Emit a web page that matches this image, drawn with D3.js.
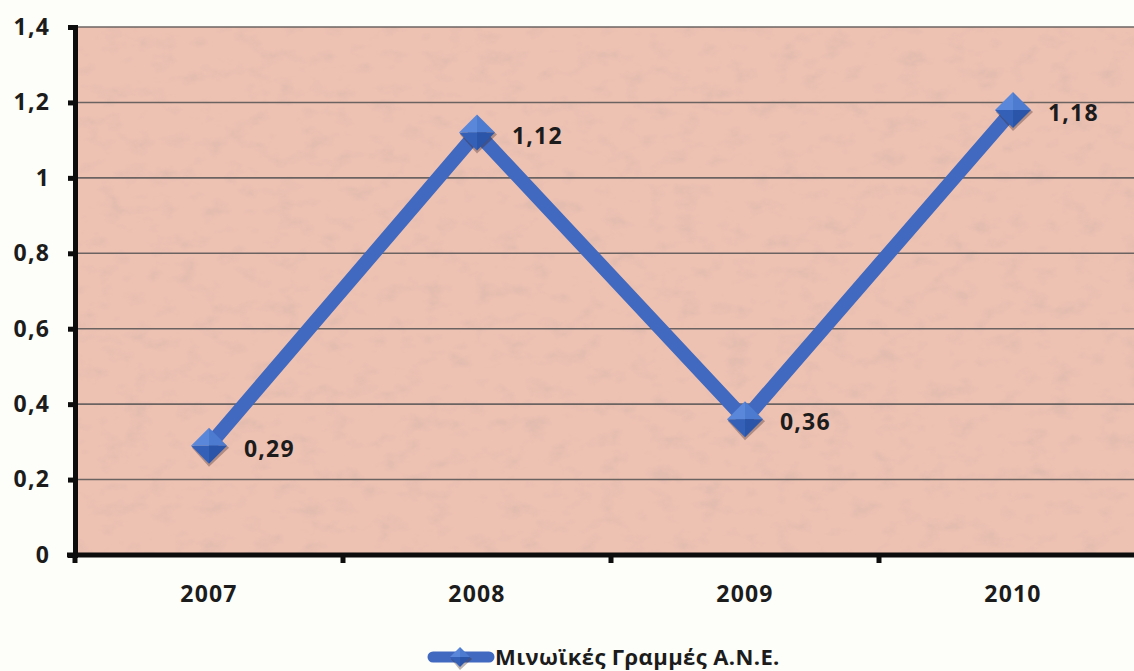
<!DOCTYPE html>
<html>
<head>
<meta charset="utf-8">
<script src="https://cdn.jsdelivr.net/npm/d3@7"></script>
<style>
  html, body { margin: 0; padding: 0; background: #fdfdf9; }
  svg { display: block; }
  text { font-family: "Open Sans", "Noto Sans", sans-serif; font-weight: 700; fill: #1c1c1c; }
</style>
</head>
<body>
<script>
// Data
const years = ["2007", "2008", "2009", "2010"];
const values = [0.29, 1.12, 0.36, 1.18];
const valueLabels = ["0,29", "1,12", "0,36", "1,18"];
const yTicks = [0, 0.2, 0.4, 0.6, 0.8, 1, 1.2, 1.4];
const seriesName = "Μινωϊκές Γραμμές Α.Ν.Ε.";

const W = 1134, H = 671;
const margin = { left: 75, top: 27, bottom: 116 };
const plotRight = 75 + 4 * 268;

const svg = d3.select("body").append("svg").attr("width", W).attr("height", H);

const x = d3.scaleBand().domain(years).range([margin.left, plotRight]);
const y = d3.scaleLinear().domain([0, 1.4]).range([H - margin.bottom, margin.top]);

const defs = svg.append("defs");
// light paper-like grain for the plot area
const f = defs.append("filter").attr("id", "grain").attr("x", 0).attr("y", 0).attr("width", 1).attr("height", 1);
f.append("feTurbulence").attr("type", "fractalNoise").attr("baseFrequency", "0.04 0.06").attr("numOctaves", 4).attr("seed", 7).attr("result", "noise");
f.append("feColorMatrix").attr("in", "noise").attr("type", "matrix")
  .attr("values", "0 0 0 0 0.66  0 0 0 0 0.46  0 0 0 0 0.40  0 0 0 -1.2 0.6").attr("result", "tint");
f.append("feComposite").attr("in", "tint").attr("in2", "SourceGraphic").attr("operator", "in").attr("result", "t2");
f.append("feMerge").call(m => { m.append("feMergeNode").attr("in", "SourceGraphic"); m.append("feMergeNode").attr("in", "t2"); });

// Plot background
svg.append("rect")
  .attr("x", margin.left).attr("y", y(1.4))
  .attr("width", plotRight - margin.left).attr("height", y(0) - y(1.4))
  .attr("fill", "#eec2b3")
  .attr("filter", "url(#grain)");

// Gridlines
svg.append("g").selectAll("line").data(yTicks.filter(d => d > 0)).join("line")
  .attr("x1", margin.left).attr("x2", W)
  .attr("y1", d => y(d)).attr("y2", d => y(d))
  .attr("stroke", "#6b6362").attr("stroke-width", 1.6);

const labelStyle = s => s.attr("font-size", 23).attr("fill", "#1c1c1c").style("letter-spacing", "1.2px");

// Y axis
const yAxis = svg.append("g").attr("transform", `translate(${margin.left},0)`)
  .call(d3.axisLeft(y).tickValues(yTicks).tickSize(7).tickPadding(18)
    .tickFormat(d => d3.format("~g")(d).replace(".", ",")));
yAxis.select(".domain").attr("stroke", "#0d0d0d").attr("stroke-width", 5);
yAxis.selectAll(".tick line").attr("stroke", "#0d0d0d").attr("stroke-width", 5);
yAxis.selectAll("text").call(labelStyle);

// X axis
const xAxis = svg.append("g").attr("transform", `translate(0,${y(0)})`)
  .call(d3.axisBottom(x).tickSize(0).tickPadding(31));
xAxis.select(".domain").attr("d", `M${margin.left - 8},0H${W}`).attr("stroke", "#0d0d0d").attr("stroke-width", 5);
xAxis.selectAll("text").call(labelStyle);
// category boundary ticks
svg.append("g").selectAll("line").data(years.slice(1)).join("line")
  .attr("x1", d => x(d)).attr("x2", d => x(d))
  .attr("y1", y(0)).attr("y2", y(0) + 8)
  .attr("stroke", "#0d0d0d").attr("stroke-width", 5);
svg.append("line").attr("x1", margin.left).attr("x2", margin.left)
  .attr("y1", y(0)).attr("y2", y(0) + 8).attr("stroke", "#0d0d0d").attr("stroke-width", 5);

// Series line
const cx = d => x(d) + x.bandwidth() / 2;
const pts = years.map((yr, i) => [cx(yr), y(values[i])]);
svg.append("path")
  .datum(pts)
  .attr("d", d3.line())
  .attr("fill", "none").attr("stroke", "#4169c0").attr("stroke-width", 14)
  .attr("stroke-linejoin", "miter");

// Bevelled diamond marker
function diamond(g, px, py, r) {
  const faces = [
    { p: [[0, -r], [r, 0], [0, 0]], c: "#4d7bd0" },
    { p: [[r, 0], [0, r], [0, 0]], c: "#2b55a8" },
    { p: [[0, r], [-r, 0], [0, 0]], c: "#3560b8" },
    { p: [[-r, 0], [0, -r], [0, 0]], c: "#5a87da" }
  ];
  const m = g.append("g").attr("transform", `translate(${px},${py})`);
  m.append("path").attr("d", `M0,${-r + 2}L${r + 2},2L0,${r + 3}L${-r + 1},2Z`).attr("fill", "rgba(60,40,40,0.35)");
  faces.forEach(fc => m.append("path").attr("d", "M" + fc.p.map(q => q.join(",")).join("L") + "Z").attr("fill", fc.c));
}
const mk = svg.append("g");
pts.forEach(p => diamond(mk, p[0], p[1], 18));

// Value labels
svg.append("g").selectAll("text").data(pts).join("text")
  .attr("x", d => d[0] + 35).attr("y", d => d[1] + 11)
  .text((d, i) => valueLabels[i])
  .call(labelStyle);

// Legend
const lg = svg.append("g").attr("transform", "translate(460,657)");
lg.append("line").attr("x1", -27).attr("x2", 29).attr("y1", 0).attr("y2", 0)
  .attr("stroke", "#4169c0").attr("stroke-width", 11).attr("stroke-linecap", "round");
diamond(lg, 0, 0, 10);
lg.append("text").attr("x", 35).attr("y", 8).attr("font-size", 22)
  .style("letter-spacing", "0.4px").text(seriesName);
</script>
</body>
</html>
